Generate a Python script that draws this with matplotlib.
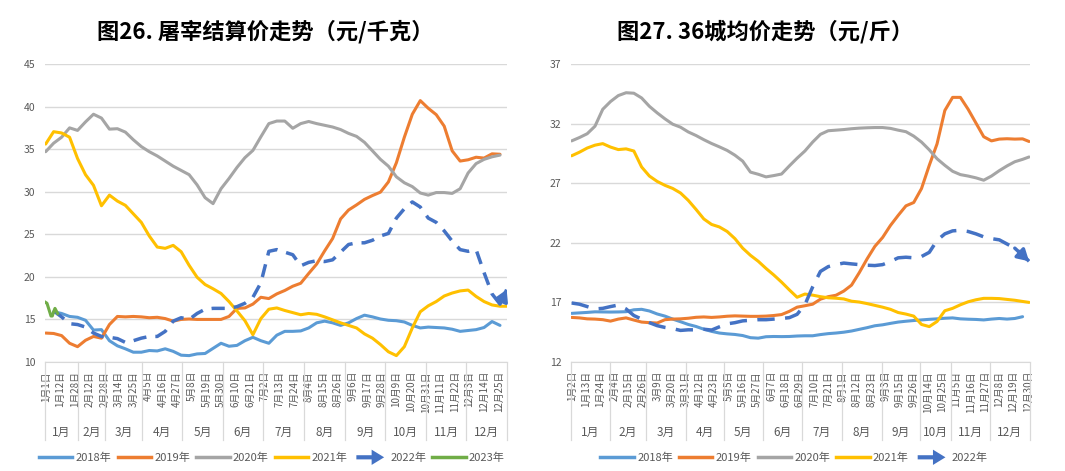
import numpy as np
import matplotlib
matplotlib.use("Agg")
import matplotlib.pyplot as plt
from matplotlib.legend_handler import HandlerBase
from matplotlib.patches import FancyArrowPatch
from matplotlib.lines import Line2D

plt.rcParams['font.family'] = ['Noto Sans CJK SC', 'DejaVu Sans']

nan = np.nan

# ---------------- categories ----------------
MONTHS = ["1月", "2月", "3月", "4月", "5月", "6月", "7月", "8月", "9月", "10月", "11月", "12月"]
LABEL_STEP = 11  # one date label every 11 categories

# left chart: number of dated categories per month, date labels
left_month_counts = [25, 20, 28, 30, 31, 30, 31, 31, 30, 31, 30, 31]
left_tick_labels = ["1月1日", "1月12日", "1月28日", "2月12日", "2月28日", "3月14日", "3月25日",
                    "4月5日", "4月16日", "4月27日", "5月8日", "5月19日", "5月30日", "6月10日",
                    "6月21日", "7月2日", "7月13日", "7月24日", "8月4日", "8月15日", "8月26日",
                    "9月6日", "9月17日", "9月28日", "10月9日", "10月20日", "10月31日", "11月11日",
                    "11月22日", "12月3日", "12月14日", "12月25日"]
# sampled category positions (day index in the year's category list)
left_days = list(range(0, 343, 6)) + [347]

left_2018 = [nan, 15.9, 15.7, 15.35, 15.25, 14.9, 13.75, 13.8, 12.5, 11.9, 11.55, 11.15, 11.15, 11.35,
             11.3, 11.55, 11.25, 10.8, 10.75, 10.95, 11.0, 11.6, 12.2, 11.85, 11.95, 12.5, 12.9, 12.5,
             12.2, 13.15, 13.6, 13.6, 13.65, 14.0, 14.6, 14.8, 14.6, 14.3, 14.6, 15.1, 15.5, 15.3, 15.05,
             14.9, 14.85, 14.7, 14.3, 14.0, 14.1, 14.05, 14.0, 13.85, 13.6, 13.7, 13.8, 14.05, 14.75,
             14.3, nan]
left_2019 = [13.4, 13.35, 13.1, 12.2, 11.8, 12.55, 13.0, 12.8, 14.4, 15.35, 15.3, 15.35, 15.3, 15.2,
             15.25, 15.1, 14.8, 15.0, 15.05, 15.0, 15.0, 15.0, 15.0, 15.35, 16.3, 16.35, 16.8, 17.6,
             17.45, 18.0, 18.4, 18.9, 19.25, 20.4, 21.5, 23.05, 24.5, 26.8, 27.85, 28.45, 29.1, 29.55,
             29.95, 31.15, 33.4, 36.4, 39.1, 40.7, 39.8, 39.05, 37.7, 34.8, 33.6, 33.75, 34.05, 33.95,
             34.45, 34.4, nan]
left_2020 = [34.7, 35.7, 36.4, 37.5, 37.2, 38.2, 39.1, 38.65, 37.35, 37.4, 37.0, 36.1, 35.3, 34.7, 34.2,
             33.6, 33.0, 32.5, 32.0, 30.8, 29.3, 28.6, 30.35, 31.55, 32.85, 34.0, 34.85, 36.45, 38.0,
             38.3, 38.3, 37.45, 38.0, 38.25, 38.0, 37.8, 37.6, 37.3, 36.85, 36.5, 35.8, 34.8, 33.8,
             33.0, 31.75, 31.05, 30.6, 29.85, 29.6, 29.9, 29.9, 29.8, 30.35, 32.2, 33.3, 33.8, 34.1,
             34.3, nan]
left_2021 = [35.6, 37.05, 36.9, 36.4, 33.9, 32.0, 30.75, 28.35, 29.6, 28.9, 28.4, 27.4, 26.4, 24.8,
             23.5, 23.35, 23.7, 22.95, 21.35, 19.95, 19.1, 18.6, 18.05, 17.1, 16.0, 14.85, 13.2, 15.1,
             16.2, 16.35, 16.05, 15.8, 15.55, 15.7, 15.6, 15.3, 14.95, 14.6, 14.3, 14.0, 13.3, 12.8,
             12.05, 11.2, 10.75, 11.8, 14.0, 15.9, 16.6, 17.1, 17.75, 18.1, 18.35, 18.45, 17.7, 17.1,
             16.7, 16.55, 16.55]
left_2022 = [nan, 16.0, 15.3, 14.5, 14.4, 14.1, 13.4, 13.0, 12.9, 12.75, 12.3, 12.5, 12.8, 13.0, 13.0,
             13.6, 14.8, 15.2, 15.0, 15.7, 16.2, 16.3, 16.3, 16.3, 16.5, 16.9, 17.6, 19.3, 23.0, 23.2,
             22.9, 22.6, 21.3, 21.7, 21.9, 21.8, 22.0, 22.9, 23.8, 24.0, 24.0, 24.3, 24.8, 25.1, 26.9,
             28.0, 28.8, 28.2, 26.9, 26.4, 25.4, 24.2, 23.2, 23.0, 23.2, 20.5, 18.0, 16.8, 18.5]
left_2023_days = list(range(0, 10))
left_2023 = [17.0, 16.9, 16.4, 15.9, 15.4, 15.4, 15.9, 16.3, 16.0, 15.7]

# right chart
right_month_counts = [30, 28, 31, 29, 30, 30, 31, 31, 29, 24, 30, 31]
right_tick_labels = ["1月2日", "1月13日", "1月24日", "2月4日", "2月15日", "2月26日", "3月9日",
                     "3月20日", "3月31日", "4月12日", "4月23日", "5月5日", "5月16日", "5月27日",
                     "6月7日", "6月18日", "6月29日", "7月10日", "7月21日", "8月1日", "8月12日",
                     "8月23日", "9月3日", "9月15日", "9月26日", "10月14日", "10月25日", "11月5日",
                     "11月16日", "11月27日", "12月8日", "12月19日", "12月30日"]
right_days = list(range(0, 349, 6)) + [353]

right_2018 = [16.08, 16.12, 16.16, 16.21, 16.2, 16.19, 16.2, 16.22, 16.38, 16.42, 16.28, 16.03, 15.85,
              15.6, 15.38, 15.15, 14.98, 14.75, 14.57, 14.43, 14.36, 14.31, 14.22, 14.04, 14.0, 14.12,
              14.14, 14.13, 14.14, 14.18, 14.2, 14.2, 14.3, 14.38, 14.43, 14.5, 14.6, 14.74, 14.88,
              15.04, 15.12, 15.24, 15.35, 15.42, 15.48, 15.53, 15.58, 15.62, 15.67, 15.7, 15.62, 15.59,
              15.57, 15.53, 15.6, 15.65, 15.6, 15.65, 15.8, nan]
right_2019 = [15.74, 15.7, 15.62, 15.6, 15.55, 15.43, 15.6, 15.7, 15.52, 15.35, 15.3, 15.27, 15.55,
              15.6, 15.62, 15.67, 15.75, 15.78, 15.74, 15.78, 15.84, 15.87, 15.85, 15.83, 15.83, 15.85,
              15.9, 15.98, 16.25, 16.6, 16.72, 16.85, 17.27, 17.48, 17.6, 17.95, 18.45, 19.5, 20.65,
              21.7, 22.45, 23.45, 24.3, 25.1, 25.38, 26.55, 28.5, 30.3, 33.1, 34.2, 34.2, 33.2, 32.05,
              30.9, 30.55, 30.7, 30.73, 30.7, 30.72, 30.5]
right_2020 = [30.55, 30.83, 31.15, 31.78, 33.2, 33.85, 34.35, 34.59, 34.55, 34.15, 33.45, 32.9, 32.4,
              31.95, 31.7, 31.3, 31.0, 30.65, 30.33, 30.05, 29.75, 29.35, 28.85, 27.93, 27.75, 27.53,
              27.64, 27.77, 28.45, 29.1, 29.7, 30.45, 31.1, 31.4, 31.45, 31.5, 31.57, 31.62, 31.65,
              31.67, 31.67, 31.6, 31.45, 31.32, 30.95, 30.45, 29.8, 29.05, 28.5, 28.0, 27.72, 27.6,
              27.45, 27.25, 27.6, 28.05, 28.45, 28.8, 29.0, 29.2]
right_2021 = [29.3, 29.6, 29.95, 30.19, 30.32, 30.03, 29.82, 29.88, 29.7, 28.36, 27.6, 27.15, 26.82,
              26.56, 26.18, 25.56, 24.8, 24.0, 23.54, 23.33, 22.95, 22.35, 21.55, 20.95, 20.45, 19.85,
              19.3, 18.7, 18.05, 17.43, 17.7, 17.61, 17.48, 17.39, 17.35, 17.29, 17.1, 17.03, 16.9,
              16.75, 16.6, 16.42, 16.15, 16.02, 15.85, 15.15, 14.97, 15.4, 16.3, 16.5, 16.8, 17.05,
              17.22, 17.34, 17.34, 17.32, 17.25, 17.18, 17.08, 17.0]
right_2022 = [16.95, 16.85, 16.65, 16.45, 16.5, 16.65, 16.78, 16.45, 15.9, 15.6, 15.3, 15.05, 14.9,
              14.8, 14.65, 14.7, 14.7, 14.75, 14.68, 14.95, 15.2, 15.3, 15.45, 15.5, 15.55, 15.55, 15.6,
              15.65, 15.72, 16.0, 16.8, 18.3, 19.6, 20.0, 20.17, 20.3, 20.23, 20.17, 20.12, 20.09,
              20.17, 20.43, 20.74, 20.79, 20.74, 20.85, 21.2, 22.2, 22.75, 23.0, 23.05, 22.95, 22.75,
              22.5, 22.35, 22.25, 21.9, 21.55, 21.0, 20.45]

YEARS = ["2018年", "2019年", "2020年", "2021年", "2022年", "2023年"]
COLORS = ["#5B9BD5", "#ED7D31", "#A5A5A5", "#FFC000", "#4472C4", "#70AD47"]

TITLE_L = "图26. 屠宰结算价走势（元/千克）"
TITLE_R = "图27. 36城均价走势（元/斤）"

GRAY_TXT = "#595959"
GRID = "#D9D9D9"

W, H = 1065, 471
fig = plt.figure(figsize=(W / 100, H / 100), dpi=100)
axL = fig.add_axes([45 / W, 1 - 362 / H, 462.3 / W, 298 / H])
axR = fig.add_axes([571 / W, 1 - 362 / H, 458.7 / W, 298 / H])


def style_axis(ax, month_counts, tick_labels, ylim, ystep):
    n = sum(month_counts)
    ax.set_ylim(*ylim)
    ax.set_yticks(np.arange(ylim[0], ylim[1] + 0.01, ystep))
    ax.grid(axis='y', color=GRID, lw=1)
    ax.set_axisbelow(True)
    for s in ['top', 'right', 'left']:
        ax.spines[s].set_visible(False)
    ax.spines['bottom'].set_color(GRID)
    ax.tick_params(axis='y', length=0, labelsize=7.5, labelcolor=GRAY_TXT, pad=7)
    ax.set_xticks(np.arange(len(tick_labels)) * LABEL_STEP)
    ax.set_xticklabels(tick_labels, rotation=90, fontsize=7, color=GRAY_TXT)
    ax.tick_params(axis='x', length=0, pad=6.5)
    bounds = np.concatenate([[0], np.cumsum(month_counts)]) - 0.5
    trans = ax.get_xaxis_transform()
    for b in bounds:
        ax.plot([b, b], [0, -0.262], transform=trans, color=GRID, lw=0.9,
                clip_on=False, scalex=False, scaley=False)
    for k, m in enumerate(MONTHS):
        ax.annotate(m, xy=((bounds[k] + bounds[k + 1]) / 2, 0), xycoords=trans,
                    xytext=(0, -70), textcoords='offset pixels', ha='center', va='center',
                    fontsize=8.5, color=GRAY_TXT)
    ax.set_xlim(-0.5, n - 0.5)


def draw_series(ax, days, series, arrow_back, dash):
    lw = 2.2
    for vals, col, lab in series:
        if lab == "2022年":
            ax.plot(days, vals, color=col, lw=lw + 0.3, ls=(0, dash), label=lab)
            ax.annotate('', xy=(days[-1], vals[-1]),
                        xytext=(days[-1 - arrow_back], vals[-1 - arrow_back]),
                        arrowprops=dict(arrowstyle='-|>,head_length=0.6,head_width=0.35',
                                        color=col, lw=lw + 0.3, mutation_scale=11,
                                        shrinkA=0, shrinkB=0))
        else:
            ax.plot(days, vals, color=col, lw=lw, label=lab, solid_capstyle='round')


style_axis(axL, left_month_counts, left_tick_labels, (10, 45), 5)
style_axis(axR, right_month_counts, right_tick_labels, (12, 37), 5)

draw_series(axL, left_days, [(left_2018, COLORS[0], YEARS[0]), (left_2019, COLORS[1], YEARS[1]),
                             (left_2020, COLORS[2], YEARS[2]), (left_2021, COLORS[3], YEARS[3]),
                             (left_2022, COLORS[4], YEARS[4])], arrow_back=1, dash=(3.8, 2.6))
axL.plot(left_2023_days, left_2023, color=COLORS[5], lw=2.2)
draw_series(axR, right_days, [(right_2018, COLORS[0], YEARS[0]), (right_2019, COLORS[1], YEARS[1]),
                              (right_2020, COLORS[2], YEARS[2]), (right_2021, COLORS[3], YEARS[3]),
                              (right_2022, COLORS[4], YEARS[4])], arrow_back=2, dash=(5, 3))


class ArrowProxy:
    def __init__(self, color):
        self.color = color


class ArrowHandler(HandlerBase):
    def create_artists(self, legend, orig_handle, xdescent, ydescent, width, height,
                       fontsize, trans):
        y = height / 2 - ydescent
        a = FancyArrowPatch((-xdescent, y), (width - xdescent, y),
                            arrowstyle='simple,head_length=0.9,head_width=1.1,tail_width=0.3',
                            mutation_scale=10, color=orig_handle.color, lw=0,
                            transform=trans)
        return [a]


def legend_for(n_years, cx):
    handles = []
    for k in range(n_years):
        if YEARS[k] == "2022年":
            handles.append(ArrowProxy(COLORS[k]))
        else:
            handles.append(Line2D([], [], color=COLORS[k], lw=2.5))
    fig.legend(handles, YEARS[:n_years], loc='center', bbox_to_anchor=(cx / W, 1 - 458 / H),
               ncol=n_years, frameon=False, fontsize=8, handlelength=3.0, handletextpad=0.3,
               columnspacing=0.55, labelcolor=GRAY_TXT,
               handler_map={ArrowProxy: ArrowHandler()})


legend_for(6, 272)
legend_for(5, 794)

fig.text(265 / W, 1 - 32 / H, TITLE_L, ha='center', va='center', fontsize=16, fontweight='bold')
fig.text(765 / W, 1 - 32 / H, TITLE_R, ha='center', va='center', fontsize=16, fontweight='bold')

fig.savefig("out.png", dpi=100)
